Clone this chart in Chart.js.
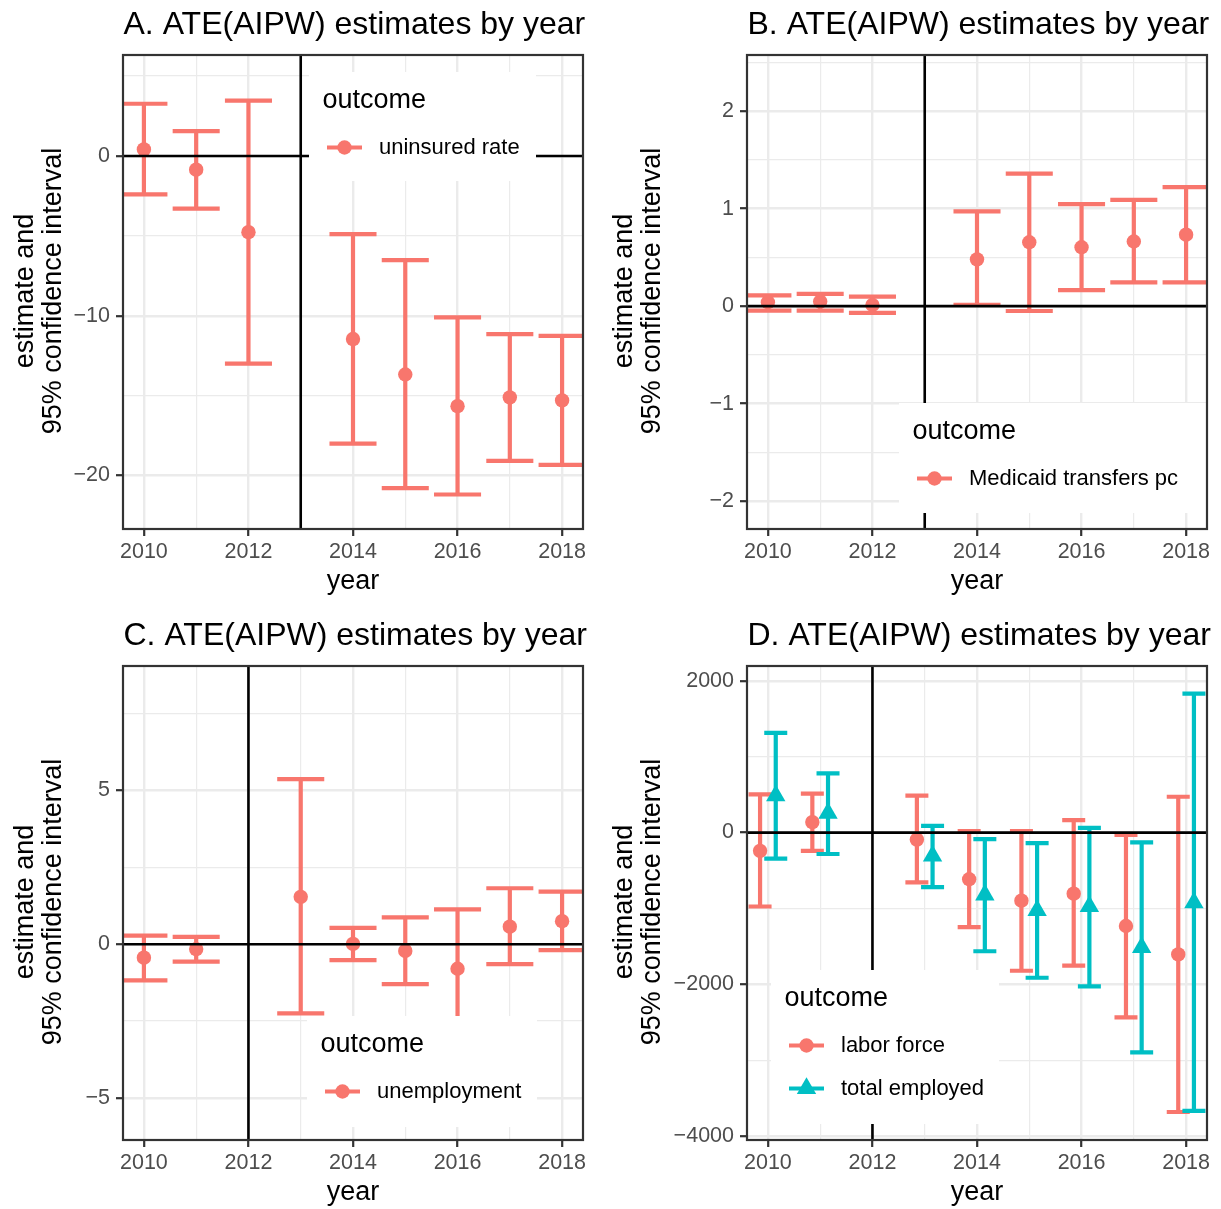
<!DOCTYPE html>
<html>
<head>
<meta charset="utf-8">
<script src="https://cdn.jsdelivr.net/npm/chart.js@4.4.1/dist/chart.umd.min.js"></script>
<style>
  html, body { margin: 0; padding: 0; background: #fff; }
  #fig { position: relative; width: 1221px; height: 1209px; overflow: hidden; background: #fff; }
  canvas { position: absolute; }
</style>
</head>
<body>
<div id="fig">
  <canvas id="panelA" width="600" height="611" style="left:0;top:0"></canvas>
  <canvas id="panelB" width="621" height="611" style="left:600px;top:0"></canvas>
  <canvas id="panelC" width="600" height="598" style="left:0;top:611px"></canvas>
  <canvas id="panelD" width="621" height="598" style="left:600px;top:611px"></canvas>
</div>
<script>
// years in each panel (A/B skip 2013, C/D skip 2012)
const yearsAB = [2010, 2011, 2012, 2014, 2015, 2016, 2017, 2018];
const yearsCD = [2010, 2011, 2013, 2014, 2015, 2016, 2017, 2018];

// A. uninsured rate
const uninsuredEst  = [0.41, -0.86, -4.77, -11.46, -13.68, -15.66, -15.11, -15.30];
const uninsuredLow  = [-2.41, -3.29, -13.0, -18.0, -20.79, -21.19, -19.09, -19.33];
const uninsuredHigh = [3.27, 1.55, 3.46, -4.89, -6.52, -10.1, -11.15, -11.26];

// B. Medicaid transfers pc
const medicaidEst  = [0.04, 0.047, 0.012, 0.48, 0.655, 0.604, 0.663, 0.733];
const medicaidLow  = [-0.047, -0.047, -0.07, 0.012, -0.05, 0.165, 0.243, 0.243];
const medicaidHigh = [0.11, 0.125, 0.098, 0.973, 1.36, 1.047, 1.09, 1.22];

// C. unemployment
const unempEst  = [-0.44, -0.16, 1.54, 0.01, -0.22, -0.80, 0.57, 0.75];
const unempLow  = [-1.18, -0.57, -2.25, -0.52, -1.30, -2.73, -0.65, -0.19];
const unempHigh = [0.28, 0.24, 5.37, 0.53, 0.87, 1.13, 1.82, 1.71];

// D. labor force / total employed
const laborEst  = [-241, 138, -92, -615, -897, -805, -1231, -1605];
const laborLow  = [-974, -241, -656, -1246, -1821, -1754, -2436, -3682];
const laborHigh = [503, 513, 487, 21, 21, 164, -31, 472];
const employedEst  = [487, 256, -308, -820, -1026, -974, -1513, -923];
const employedLow  = [-344, -282, -718, -1564, -1913, -2026, -2897, -3667];
const employedHigh = [1313, 779, 87, -87, -138, 62, -128, 1831];

// axis ticks
const xTickValues = [2010, 2012, 2014, 2016, 2018];
const xTickLabels = ['2010', '2012', '2014', '2016', '2018'];
const xMinor = [2011, 2013, 2015, 2017];

const yTicksA = [-20, -10, 0];          const yLabelsA = ['\u221220', '\u221210', '0'];     const yMinorA = [-15, -5, 5];
const yTicksB = [-2, -1, 0, 1, 2];      const yLabelsB = ['\u22122', '\u22121', '0', '1', '2']; const yMinorB = [-1.5, -0.5, 0.5, 1.5, 2.5];
const yTicksC = [-5, 0, 5];             const yLabelsC = ['\u22125', '0', '5'];              const yMinorC = [-2.5, 2.5, 7.5];
const yTicksD = [-4000, -2000, 0, 2000]; const yLabelsD = ['\u22124000', '\u22122000', '0', '2000']; const yMinorD = [-3000, -1000, 1000];

const SALMON = '#F8766D';
const TEAL = '#00BFC4';
const FONT = '"Liberation Sans", Arial, Helvetica, sans-serif';

const ggPlugin = {
  id: 'gg',
  beforeDatasetsDraw(chart) {
    const { ctx, chartArea: a, scales: { x, y } } = chart;
    ctx.save();
    ctx.beginPath();
    ctx.rect(a.left, a.top, a.width, a.height);
    ctx.clip();
    chart.data.datasets.forEach(ds => {
      ctx.strokeStyle = ds.backgroundColor;
      ctx.lineWidth = 4.2;
      ctx.lineCap = 'butt';
      ds.data.forEach((p, i) => {
        const px = x.getPixelForValue(p.x);
        const lo = y.getPixelForValue(ds.low[i]);
        const hi = y.getPixelForValue(ds.high[i]);
        const l = x.getPixelForValue(p.x - ds.cap);
        const r = x.getPixelForValue(p.x + ds.cap);
        ctx.beginPath();
        ctx.moveTo(px, lo); ctx.lineTo(px, hi);
        ctx.moveTo(l, lo); ctx.lineTo(r, lo);
        ctx.moveTo(l, hi); ctx.lineTo(r, hi);
        ctx.stroke();
      });
    });
    ctx.restore();
  },
  afterDatasetsDraw(chart, args, o) {
    const { ctx, chartArea: a, scales: { x, y } } = chart;
    // reference lines
    ctx.save();
    ctx.beginPath();
    ctx.rect(a.left, a.top, a.width, a.height);
    ctx.clip();
    ctx.strokeStyle = '#000';
    ctx.lineWidth = 2.6;
    const y0 = y.getPixelForValue(0);
    const xv = x.getPixelForValue(o.vline);
    ctx.beginPath();
    ctx.moveTo(a.left, y0); ctx.lineTo(a.right, y0);
    ctx.moveTo(xv, a.top); ctx.lineTo(xv, a.bottom);
    ctx.stroke();
    ctx.restore();

    // legend box inside the panel
    const L = o.legend;
    ctx.save();
    ctx.fillStyle = '#fff';
    ctx.fillRect(L.x, L.y, L.w, L.h);
    ctx.fillStyle = '#000';
    ctx.font = '27px ' + FONT;
    ctx.textAlign = 'left';
    ctx.textBaseline = 'alphabetic';
    ctx.fillText('outcome', L.x + 13.5, L.y + 36);
    chart.data.datasets.forEach((ds, i) => {
      const cy = L.y + 75.5 + i * 43;
      ctx.strokeStyle = ds.backgroundColor;
      ctx.lineWidth = 4.2;
      ctx.beginPath();
      ctx.moveTo(L.x + 18, cy); ctx.lineTo(L.x + 53, cy);
      ctx.stroke();
      ctx.fillStyle = ds.backgroundColor;
      Chart.helpers.drawPoint(ctx, { pointStyle: ds.pointStyle, radius: ds.pointRadius, rotation: 0, borderWidth: 0 }, L.x + 35.5, cy);
      ctx.fillStyle = '#000';
      ctx.font = '22px ' + FONT;
      ctx.textBaseline = 'middle';
      ctx.fillText(ds.label, L.x + 70, cy);
      ctx.textBaseline = 'alphabetic';
    });
    ctx.restore();

    // panel border
    ctx.save();
    ctx.strokeStyle = '#333333';
    ctx.lineWidth = 2.2;
    ctx.strokeRect(a.left, a.top, a.width, a.height);
    ctx.restore();
  },
  afterDraw(chart, args, o) {
    const { ctx, chartArea: a } = chart;
    ctx.save();
    ctx.fillStyle = '#000';
    ctx.textBaseline = 'alphabetic';
    // plot title
    ctx.font = '32px ' + FONT;
    ctx.textAlign = 'left';
    ctx.fillText(o.title, a.left + 0.5, 34);
    // x title
    ctx.font = '27px ' + FONT;
    ctx.textAlign = 'center';
    ctx.fillText('year', (a.left + a.right) / 2, 589);
    // y title, two lines
    const cy = (a.top + a.bottom) / 2 - 1;
    ['estimate and', '95% confidence interval'].forEach((line, i) => {
      ctx.save();
      ctx.translate(o.yTitleX[i], cy);
      ctx.rotate(-Math.PI / 2);
      ctx.fillText(line, 0, 0);
      ctx.restore();
    });
    ctx.restore();
  }
};

function tickAxis(major, labels, minor, min, max, extra) {
  const all = major.concat(minor).sort((p, q) => p - q);
  const isMajor = v => major.some(m => Math.abs(m - v) < 1e-9);
  return Object.assign({
    type: 'linear',
    min: min,
    max: max,
    afterBuildTicks: axis => { axis.ticks = all.map(v => ({ value: v })); },
    ticks: {
      autoSkip: false,
      maxRotation: 0,
      minRotation: 0,
      color: '#4D4D4D',
      font: { family: FONT, size: 21.5 },
      callback: v => {
        const k = major.findIndex(m => Math.abs(m - v) < 1e-9);
        return k >= 0 ? labels[k] : '';
      }
    },
    grid: {
      color: '#EBEBEB',
      lineWidth: c => isMajor(c.tick.value) ? 2.4 : 1.2,
      tickColor: c => isMajor(c.tick.value) ? '#333333' : 'rgba(0,0,0,0)',
      tickWidth: 2.2,
      tickLength: 7
    },
    border: { display: false }
  }, extra);
}

function makePanel(id, p) {
  const canvas = document.getElementById(id);
  const W = canvas.width, H = canvas.height;
  const xAxis = tickAxis(xTickValues, xTickLabels, xMinor, 2009.6, 2018.4, {
    afterFit: s => { s.height = H - 529; }
  });
  xAxis.ticks.padding = 3;
  const yAxis = tickAxis(p.yTicks, p.yLabels, p.yMinor, p.yMin, p.yMax, {
    afterFit: s => { s.width = p.left; }
  });
  yAxis.ticks.padding = 6;
  new Chart(canvas, {
    type: 'scatter',
    data: { datasets: p.datasets },
    options: {
      responsive: false,
      animation: false,
      devicePixelRatio: 1,
      events: [],
      layout: { padding: { left: 0, top: 55, right: W - p.right, bottom: 0 } },
      plugins: {
        legend: { display: false },
        tooltip: { enabled: false },
        gg: { title: p.title, vline: p.vline, legend: p.legend, yTitleX: p.yTitleX }
      },
      scales: { x: xAxis, y: yAxis }
    },
    plugins: [ggPlugin]
  });
}

function series(label, years, est, low, high, color, style, radius, cap, shift) {
  return {
    label: label,
    data: years.map((yr, i) => ({ x: yr + shift, y: est[i] })),
    low: low,
    high: high,
    cap: cap,
    backgroundColor: color,
    borderColor: color,
    borderWidth: 0,
    pointStyle: style,
    pointRadius: radius,
    pointHoverRadius: radius
  };
}

makePanel('panelA', {
  title: 'A. ATE(AIPW) estimates by year',
  left: 123, right: 583, vline: 2013,
  yTicks: yTicksA, yLabels: yLabelsA, yMinor: yMinorA, yMin: -23.35, yMax: 6.32,
  yTitleX: [33, 61.3],
  legend: { x: 309, y: 72, w: 227, h: 109 },
  datasets: [series('uninsured rate', yearsAB, uninsuredEst, uninsuredLow, uninsuredHigh, SALMON, 'circle', 7.2, 0.45, 0)]
});

makePanel('panelB', {
  title: 'B. ATE(AIPW) estimates by year',
  left: 147, right: 607, vline: 2013,
  yTicks: yTicksB, yLabels: yLabelsB, yMinor: yMinorB, yMin: -2.286, yMax: 2.576,
  yTitleX: [32.3, 60],
  legend: { x: 299, y: 403, w: 308, h: 110 },
  datasets: [series('Medicaid transfers pc', yearsAB, medicaidEst, medicaidLow, medicaidHigh, SALMON, 'circle', 7.2, 0.45, 0)]
});

makePanel('panelC', {
  title: 'C. ATE(AIPW) estimates by year',
  left: 123, right: 583, vline: 2012,
  yTicks: yTicksC, yLabels: yLabelsC, yMinor: yMinorC, yMin: -6.37, yMax: 9.05,
  yTitleX: [33, 61.3],
  legend: { x: 307, y: 405, w: 230, h: 111 },
  datasets: [series('unemployment', yearsCD, unempEst, unempLow, unempHigh, SALMON, 'circle', 7.2, 0.45, 0)]
});

makePanel('panelD', {
  title: 'D. ATE(AIPW) estimates by year',
  left: 147, right: 607, vline: 2012,
  yTicks: yTicksD, yLabels: yLabelsD, yMinor: yMinorD, yMin: -4051, yMax: 2195,
  yTitleX: [32.3, 60],
  legend: { x: 171, y: 359, w: 228, h: 154 },
  datasets: [
    series('labor force', yearsCD, laborEst, laborLow, laborHigh, SALMON, 'circle', 7.2, 0.22, -0.15),
    series('total employed', yearsCD, employedEst, employedLow, employedHigh, TEAL, 'triangle', 11.2, 0.22, 0.15)
  ]
});
</script>
</body>
</html>
